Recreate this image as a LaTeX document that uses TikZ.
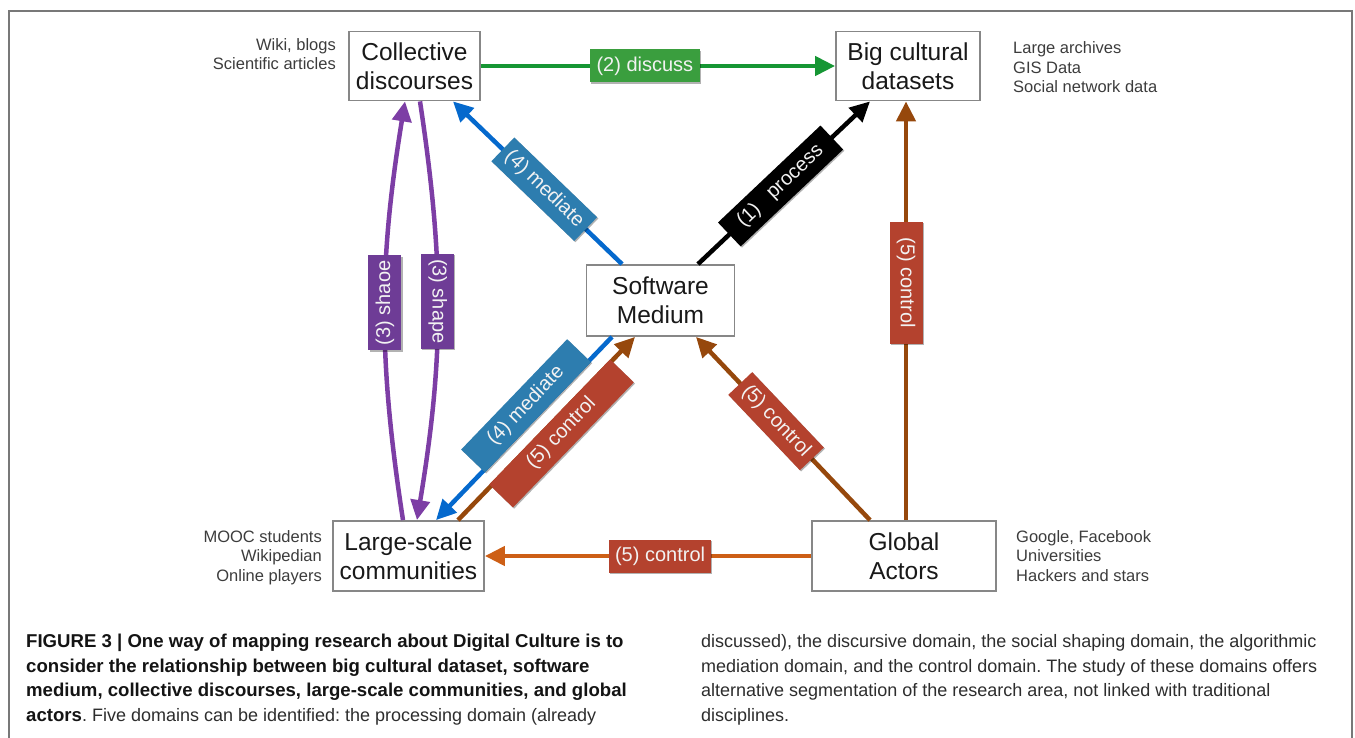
\documentclass[tikz,border=0pt]{standalone}
\usepackage{fontspec}
\setmainfont{Liberation Sans}
\usetikzlibrary{arrows.meta,shadows}
\frenchspacing

\definecolor{framegray}{RGB}{120,120,120}
\definecolor{boxgray}{RGB}{135,135,135}
\definecolor{textdark}{RGB}{25,25,25}
\definecolor{sidegray}{RGB}{60,60,60}
\definecolor{capdark}{RGB}{20,20,20}
\definecolor{capgray}{RGB}{45,45,45}
\definecolor{cgreen}{RGB}{22,150,52}
\definecolor{tgreen}{RGB}{58,158,62}
\definecolor{cblue}{RGB}{5,105,205}
\definecolor{tblue}{RGB}{45,125,175}
\definecolor{cpurple}{RGB}{125,62,165}
\definecolor{tpurple}{RGB}{110,60,150}
\definecolor{cbrown}{RGB}{150,72,12}
\definecolor{corange}{RGB}{205,95,22}
\definecolor{tred}{RGB}{180,66,46}
\definecolor{tagtext}{RGB}{242,242,242}

\begin{document}
\begin{tikzpicture}[x=1pt,y=-1pt,
  box/.style={draw=boxgray, line width=1.8pt, fill=white, align=center,
    font=\fontsize{24.5}{29}\selectfont, text=textdark, inner sep=0pt},
  side/.style={font=\fontsize{16.5}{19.6}\selectfont, text=sidegray, inner sep=0pt},
  conn/.style={line width=4.5pt, -{Triangle[length=20pt,width=19pt]}},
  tag/.style={font=\fontsize{20}{24}\selectfont, text=tagtext, inner xsep=5pt,
    inner ysep=0pt, minimum height=33pt,
    drop shadow={shadow xshift=1.2pt, shadow yshift=-1.2pt, opacity=.3, fill=black}},
  capbold/.style={font=\fontsize{18.6}{20}\selectfont\bfseries, text=capdark, inner sep=0pt, anchor=base west},
  caption/.style={font=\fontsize{18}{20}\selectfont, text=capgray, inner sep=0pt, anchor=base west},
]
\useasboundingbox (0,0) rectangle (1355,738);

% outer frame
\draw[framegray, line width=1.5pt] (9,738) -- (9,11) -- (1352,11) -- (1352,738);

% the five entities
\node[box, minimum width=131pt, minimum height=69pt] (cd) at (414.5,66) {Collective\\discourses};
\node[box, minimum width=144pt, minimum height=69pt] (bc) at (908,66) {Big cultural\\datasets};
\node[box, minimum width=148pt, minimum height=71pt] (sw) at (660.5,300.5) {Software\\Medium};
\node[box, minimum width=151pt, minimum height=70pt] (ls) at (408.5,556) {Large-scale\\communities};
\node[box, minimum width=184pt, minimum height=70pt] (ga) at (904,556) {Global\\Actors};

% examples next to the entities
\node[side, align=right, anchor=north east] (cdx) at (336,38.2) {Wiki, blogs\\Scientific articles};
\node[side, align=left, anchor=north west] (bcx) at (1013,41.5) {Large archives\\GIS Data\\Social network data};
\node[side, align=right, anchor=north east] (lsx) at (322,530) {MOOC students\\Wikipedian\\Online players};
\node[side, align=left, anchor=north west] (gax) at (1016,530) {Google, Facebook\\Universities\\Hackers and stars};

% (2) discursive domain
\draw[conn, cgreen] (cd.east) -- node[tag, fill=tgreen, pos=.463, minimum width=110pt] (l2) {(2) discuss} (bc.west);

% (1) processing domain
\draw[conn, black] ([xshift=37.5pt]sw.north) -- node[tag, fill=black, sloped, pos=.48, minimum width=141pt] (l1) {(1)\hspace{16pt}process} ([xshift=-38pt]bc.south);

% (4) algorithmic mediation
\draw[conn, cblue] ([xshift=-38.5pt]sw.north) -- node[tag, fill=tblue, sloped, pos=.46, minimum width=115pt] (l4a) {(4) mediate} ([xshift=38.5pt]cd.south);
\draw[conn, cblue] ([xshift=-48.5pt]sw.south) -- node[tag, fill=tblue, sloped, pos=.43, above=-4.5pt, minimum width=153pt] (l4b) {(4) mediate} ([xshift=27.5pt]ls.north);

% (3) social shaping
\draw[conn, cpurple] ([xshift=-5.5pt]ls.north) to[bend left=9] node[tag, fill=tpurple, rotate=90, pos=.52, minimum width=95pt] (l3a) {(3) shaoe} ([xshift=-9.5pt]cd.south);
\draw[conn, cpurple] ([xshift=5.5pt]cd.south) to[bend left=9] node[tag, fill=tpurple, rotate=-90, pos=.475, minimum width=95pt] (l3b) {(3) shape} ([xshift=8.5pt]ls.north);

% (5) control domain
\draw[conn, cbrown] ([xshift=49.5pt]ls.north) -- node[tag, fill=tred, sloped, pos=.527, below=-4.5pt, minimum width=174pt] (l5a) {(5) control} ([xshift=-25.5pt]sw.south);
\draw[conn, cbrown] ([xshift=-34pt]ga.north) -- node[tag, fill=tred, sloped, pos=.54, minimum width=104pt] (l5b) {(5) control} ([xshift=35.5pt]sw.south);
\draw[conn, cbrown] ([xshift=2pt]ga.north) -- node[tag, fill=tred, rotate=-90, pos=.567, minimum width=122pt] (l5c) {(5) control} ([xshift=-2pt]bc.south);
\draw[conn, corange] (ga.west) -- node[tag, fill=tred, pos=.463, minimum width=102pt] (l5d) {(5) control} (ls.east);

% caption, left column
\node[capbold] (c1) at (26,647) {FIGURE 3 | One way of mapping research about Digital Culture is to};
\node[capbold] (c2) at (26,672) {consider the relationship between big cultural dataset, software};
\node[capbold] (c3) at (26,696) {medium, collective discourses, large-scale communities, and global};
\node[caption] (c4) at (26,721) {{\color{capdark}\fontsize{18.6}{20}\selectfont\bfseries actors}. Five domains can be identified: the processing domain (already};
% caption, right column
\node[caption] (c5) at (701,647) {discussed), the discursive domain, the social shaping domain, the algorithmic};
\node[caption] (c6) at (701,672) {mediation domain, and the control domain. The study of these domains offers};
\node[caption] (c7) at (701,696) {alternative segmentation of the research area, not linked with traditional};
\node[caption] (c8) at (701,721) {disciplines.};
\end{tikzpicture}
\end{document}
